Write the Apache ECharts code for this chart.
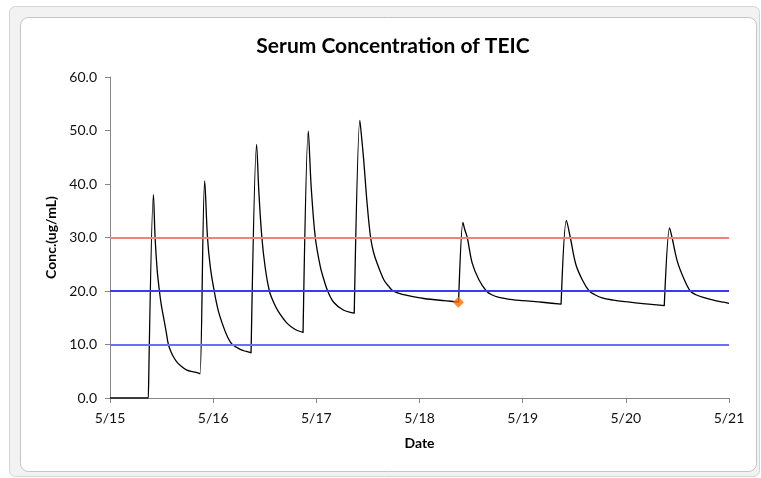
<!DOCTYPE html>
<html>
<head>
<meta charset="utf-8">
<script src="https://cdn.jsdelivr.net/npm/echarts@6/dist/echarts.min.js"></script>
<style>
  html, body { margin: 0; padding: 0; background: #fff; }
  #main { width: 761px; height: 478px; }
</style>
</head>
<body>
<div id="main"></div>
<script>
// days since 5/15 00:00
var xLabels = ['5/15', '5/16', '5/17', '5/18', '5/19', '5/20', '5/21'];

var curveT = [
  0, 0.372, 0.375,
  0.421, 0.437, 0.457, 0.479, 0.498, 0.518, 0.545, 0.566, 0.590, 0.615, 0.645, 0.680, 0.745, 0.809, 0.868, 0.873,
  0.918, 0.945, 0.972, 1.010, 1.050, 1.100, 1.140, 1.181, 1.262, 1.320, 1.367, 1.372,
  1.421, 1.443, 1.472, 1.505, 1.545, 1.590, 1.634, 1.715, 1.796, 1.871, 1.876,
  1.922, 1.950, 1.990, 2.039, 2.075, 2.110, 2.168, 2.265, 2.367, 2.372,
  2.422, 2.440, 2.459, 2.492, 2.526, 2.555, 2.589, 2.654, 2.700, 2.744, 2.848, 2.950, 3.042, 3.236, 3.378, 3.384,
  3.421, 3.440, 3.463, 3.511, 3.576, 3.648, 3.700, 3.770, 3.880, 3.997, 4.191, 4.372, 4.378,
  4.424, 4.462, 4.515, 4.580, 4.645, 4.700, 4.770, 4.880, 5.000, 5.190, 5.372, 5.378,
  5.424, 5.448, 5.500, 5.565, 5.625, 5.680, 5.750, 5.850, 5.950, 6.000
];
var curveC = [
  0, 0, 0,
  38.0, 30.0, 24.0, 20.0, 17.3, 15.2, 12.3, 10.0, 8.7, 7.7, 6.8, 6.1, 5.2, 4.9, 4.6, 4.5,
  40.6, 30.0, 24.5, 20.0, 16.3, 13.3, 11.4, 10.1, 9.1, 8.7, 8.45, 8.4,
  47.4, 38.5, 30.0, 24.3, 20.0, 17.7, 16.1, 14.0, 12.8, 12.25, 12.2,
  49.9, 39.5, 30.0, 24.5, 22.0, 20.0, 17.9, 16.4, 15.85, 15.8,
  51.9, 48.5, 44.5, 36.4, 30.0, 27.2, 25.2, 22.1, 20.9, 20.0, 19.3, 18.9, 18.6, 18.2, 17.95, 17.9,
  32.8, 31.4, 30.0, 25.2, 22.1, 20.0, 19.3, 18.8, 18.45, 18.2, 17.9, 17.55, 17.5,
  33.2, 30.0, 25.0, 22.0, 20.0, 19.3, 18.7, 18.3, 18.0, 17.6, 17.25, 17.2,
  31.8, 30.0, 25.5, 22.2, 20.0, 19.3, 18.8, 18.3, 17.9, 17.7
];

// measured level (orange marker)
var measuredT = [3.376];
var measuredC = [17.9];

var refLevels = [30, 20, 10];
var refColors = ['#f47f7f', '#3a3af2', '#6e6ef2'];

var curveData = curveT.map(function (t, i) { return [t, curveC[i]]; });
var measuredData = measuredT.map(function (t, i) { return [t, measuredC[i]]; });

var chart = echarts.init(document.getElementById('main'));

var fontFam = 'Lato, "Open Sans", sans-serif';

chart.setOption({
  animation: false,
  backgroundColor: '#fff',
  graphic: [{
    type: 'rect',
    shape: { x: 9.5, y: 6.5, width: 750, height: 470, r: 6 },
    style: { fill: '#f2f2f2', stroke: '#d4d4d4', lineWidth: 1 },
    z: -10
  }, {
    type: 'rect',
    shape: { x: 20.5, y: 17.5, width: 736, height: 454, r: 8 },
    style: { fill: '#ffffff', stroke: '#c4c4c4', lineWidth: 1 },
    z: -9
  }],
  title: {
    text: 'Serum Concentration of TEIC',
    left: 388,
    top: 31,
    textAlign: 'center',
    textStyle: { fontFamily: fontFam, fontSize: 21, fontWeight: 'bold', color: '#000' }
  },
  grid: { left: 110, right: 32, top: 77, bottom: 80 },
  xAxis: {
    type: 'value',
    min: 0,
    max: 6,
    interval: 1,
    name: 'Date',
    nameLocation: 'middle',
    nameGap: 38,
    nameTextStyle: { fontFamily: fontFam, fontSize: 14, fontWeight: 'bold', color: '#000' },
    axisLine: { lineStyle: { color: '#868686', width: 1 } },
    axisTick: { show: true, length: 5, lineStyle: { color: '#868686' } },
    axisLabel: {
      margin: 13,
      fontFamily: fontFam, fontSize: 14, color: '#111',
      formatter: function (v) { return xLabels[Math.round(v)]; }
    },
    splitLine: { show: false }
  },
  yAxis: {
    type: 'value',
    min: 0,
    max: 60,
    interval: 10,
    name: 'Conc.(ug/mL)',
    nameLocation: 'middle',
    nameGap: 47,
    nameRotate: 90,
    nameTextStyle: { fontFamily: fontFam, fontSize: 14, fontWeight: 'bold', color: '#000' },
    axisLine: { show: true, lineStyle: { color: '#868686', width: 1 } },
    axisTick: { show: true, length: 5, lineStyle: { color: '#868686' } },
    axisLabel: {
      margin: 13,
      fontFamily: fontFam, fontSize: 14, color: '#111',
      formatter: function (v) { return v.toFixed(1); }
    },
    splitLine: { show: false }
  },
  series: [{
    type: 'line',
    name: 'levels',
    data: [],
    silent: true,
    markLine: {
      silent: true,
      symbol: ['none', 'none'],
      label: { show: false },
      data: refLevels.map(function (v, i) {
        return { yAxis: v, lineStyle: { color: refColors[i], width: 2, type: 'solid' } };
      })
    }
  }, {
    type: 'line',
    name: 'conc',
    data: curveData,
    showSymbol: false,
    symbol: 'none',
    smooth: 0.35,
    lineStyle: { color: '#000', width: 1.3 },
    z: 3
  }, {
    type: 'scatter',
    name: 'measured',
    data: measuredData,
    symbol: 'diamond',
    symbolSize: 11,
    itemStyle: { color: '#ff6a00' },
    z: 4
  }]
});
</script>
</body>
</html>
